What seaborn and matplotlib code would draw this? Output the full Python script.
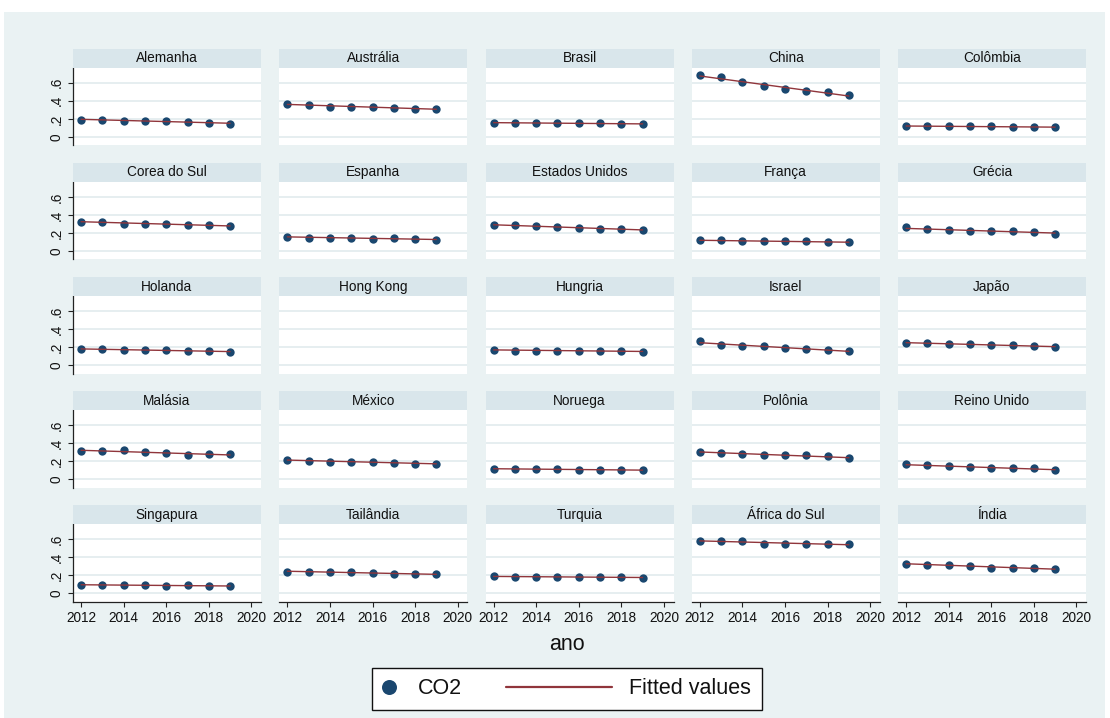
import numpy as np
import pandas as pd
import matplotlib
matplotlib.use("Agg")
import matplotlib.pyplot as plt
import seaborn as sns
from matplotlib.patches import Rectangle
from matplotlib.lines import Line2D
from matplotlib.legend_handler import HandlerBase

# ---------------- data ----------------
countries = ["Alemanha", "Austrália", "Brasil", "China", "Colômbia",
             "Corea do Sul", "Espanha", "Estados Unidos", "França", "Grécia",
             "Holanda", "Hong Kong", "Hungria", "Israel", "Japão",
             "Malásia", "México", "Noruega", "Polônia", "Reino Unido",
             "Singapura", "Tailândia", "Turquia", "África do Sul", "Índia"]
years = [2012, 2013, 2014, 2015, 2016, 2017, 2018, 2019]

alemanha = [0.193, 0.193, 0.178, 0.178, 0.174, 0.167, 0.159, 0.148]
australia = [0.367, 0.352, 0.337, 0.337, 0.330, 0.326, 0.315, 0.307]
brasil = [0.152, 0.156, 0.159, 0.159, 0.152, 0.152, 0.144, 0.141]
china = [0.681, 0.659, 0.611, 0.567, 0.530, 0.504, 0.493, 0.470]
colombia = [0.119, 0.119, 0.119, 0.119, 0.119, 0.108, 0.111, 0.108]
coreia = [0.327, 0.320, 0.305, 0.305, 0.298, 0.294, 0.287, 0.276]
espanha = [0.161, 0.150, 0.144, 0.147, 0.136, 0.144, 0.133, 0.125]
eua = [0.287, 0.287, 0.280, 0.265, 0.254, 0.246, 0.246, 0.235]
franca = [0.122, 0.122, 0.106, 0.106, 0.106, 0.106, 0.103, 0.099]
grecia = [0.261, 0.239, 0.228, 0.224, 0.221, 0.221, 0.213, 0.194]
holanda = [0.177, 0.177, 0.166, 0.169, 0.169, 0.162, 0.155, 0.144]
hong_kong = []
hungria = [0.173, 0.162, 0.158, 0.162, 0.162, 0.162, 0.155, 0.147]
israel = [0.269, 0.225, 0.207, 0.207, 0.188, 0.180, 0.166, 0.162]
japao = [0.247, 0.243, 0.236, 0.229, 0.225, 0.221, 0.214, 0.199]
malasia = [0.311, 0.315, 0.319, 0.300, 0.293, 0.270, 0.274, 0.274]
mexico = [0.215, 0.207, 0.196, 0.193, 0.189, 0.181, 0.174, 0.174]
noruega = [0.115, 0.115, 0.111, 0.111, 0.107, 0.104, 0.104, 0.100]
polonia = [0.304, 0.293, 0.278, 0.270, 0.267, 0.267, 0.252, 0.230]
reino_unido = [0.163, 0.156, 0.141, 0.133, 0.126, 0.122, 0.119, 0.104]
singapura = [0.096, 0.092, 0.089, 0.089, 0.085, 0.089, 0.081, 0.081]
tailandia = [0.240, 0.240, 0.237, 0.233, 0.226, 0.218, 0.211, 0.211]
turquia = [0.196, 0.178, 0.178, 0.178, 0.181, 0.185, 0.181, 0.170]
africa_sul = [0.578, 0.578, 0.584, 0.548, 0.544, 0.551, 0.544, 0.544]
india = [0.326, 0.318, 0.318, 0.300, 0.285, 0.281, 0.278, 0.270]

series = [alemanha, australia, brasil, china, colombia,
          coreia, espanha, eua, franca, grecia,
          holanda, hong_kong, hungria, israel, japao,
          malasia, mexico, noruega, polonia, reino_unido,
          singapura, tailandia, turquia, africa_sul, india]

x_ticks = [2012, 2014, 2016, 2018, 2020]
y_ticks = [0, 0.2, 0.4, 0.6]
y_ticklabels = ["0", ".2", ".4", ".6"]

rows = []
for name, vals in zip(countries, series):
    for yr, v in zip(years, vals):
        rows.append({"pais": name, "ano": yr, "CO2": v})
df = pd.DataFrame(rows)

# ---------------- style ----------------
NAVY = "#1A476F"
MAROON = "#90353B"
OUTER = "#EAF2F3"
STRIP = "#D9E6EB"
GRID = "#E4EDEF"

sns.set_theme(style="white")
plt.rcParams["font.family"] = ["Liberation Sans", "DejaVu Sans"]

W, H = 1110, 718
g = sns.FacetGrid(df, col="pais", col_wrap=5, col_order=countries,
                  sharex=True, sharey=True, height=1.5, aspect=1.3)


def draw(data, **kws):
    ax = plt.gca()
    sns.scatterplot(data=data, x="ano", y="CO2", ax=ax, color=NAVY, s=36,
                    edgecolor=NAVY, linewidth=0, zorder=3)
    sns.regplot(data=data, x="ano", y="CO2", ax=ax, scatter=False, ci=None,
                truncate=True, line_kws=dict(color=MAROON, lw=1.0, zorder=4))


g.map_dataframe(draw)
fig = g.figure
fig.set_size_inches(W / 100, H / 100)
fig.set_facecolor("white")

# outer light panel
fig.patches.append(Rectangle((4 / W, 0), (1105 - 4) / W, 1 - 12 / H,
                             transform=fig.transFigure, facecolor=OUTER,
                             edgecolor="none", zorder=-10))

fig.subplots_adjust(left=73 / W, right=1086 / W, top=1 - 67.7 / H,
                    bottom=1 - 601.7 / H, wspace=18.25 / 188, hspace=36.4 / 77.7)

axes = g.axes.flatten()
strip_h = 18.7 / 77.7
for i, (ax, name) in enumerate(zip(axes, countries)):
    r, c = divmod(i, 5)
    ax.set_title("")
    ax.set_xlabel("")
    ax.set_ylabel("")
    ax.set_facecolor("white")
    ax.set_xlim(2011.62, 2020.45)
    ax.set_ylim(-0.093, 0.767)
    ax.set_yticks(y_ticks)
    ax.set_xticks(x_ticks)
    ax.grid(False)
    for yv in y_ticks:
        ax.axhline(yv, color=GRID, lw=1.3, zorder=0)
    for s in ["top", "right"]:
        ax.spines[s].set_visible(False)
    ax.spines["left"].set_visible(c == 0)
    ax.spines["bottom"].set_visible(r == 4)
    for s in ["left", "bottom"]:
        ax.spines[s].set_color("#222222")
        ax.spines[s].set_linewidth(0.9)
    if c == 0:
        ax.set_yticklabels(y_ticklabels)
        ax.tick_params(axis="y", left=True, length=3.5, width=0.8,
                       color="#222222", pad=3.5, labelsize=9.8,
                       labelcolor="#111111", labelleft=True)
        plt.setp(ax.get_yticklabels(), rotation=90, va="center")
    else:
        ax.tick_params(axis="y", left=False, labelleft=False)
    if r == 4:
        ax.set_xticklabels([str(t) for t in x_ticks])
        ax.tick_params(axis="x", bottom=True, length=3.5, width=0.8,
                       color="#222222", pad=3.5, labelsize=9.8,
                       labelcolor="#111111", labelbottom=True)
    else:
        ax.tick_params(axis="x", bottom=False, labelbottom=False)
    # strip
    ax.add_patch(Rectangle((0, 1), 1, strip_h, transform=ax.transAxes,
                           facecolor=STRIP, edgecolor="none", clip_on=False,
                           zorder=5))
    ax.text(0.5, 1 + strip_h / 2, name, transform=ax.transAxes,
            ha="center", va="center", fontsize=9.8, color="#111111",
            zorder=6, clip_on=False)

fig.text(567 / W, 1 - 645 / H, "ano", ha="center", va="center",
         fontsize=15.5, color="#111111")


# ---------------- legend ----------------
class MarkerHandler(HandlerBase):
    def create_artists(self, legend, orig_handle, xdescent, ydescent,
                       width, height, fontsize, trans):
        y = height / 2 - ydescent
        m = Line2D([0.3 * fontsize - xdescent], [y], marker="o", ls="none",
                   color=NAVY, markersize=10.8, markeredgewidth=0)
        m.set_transform(trans)
        return [m]


class LongLineHandler(HandlerBase):
    def create_artists(self, legend, orig_handle, xdescent, ydescent,
                       width, height, fontsize, trans):
        y = height / 2 - ydescent
        ln = Line2D([width - 4.93 * fontsize - xdescent, width - xdescent],
                    [y, y], color=MAROON, lw=1.6)
        ln.set_transform(trans)
        return [ln]


h_co2 = Line2D([], [], marker="o", ls="none", color=NAVY)
h_fit = Line2D([], [], color=MAROON)
leg = fig.legend([h_co2, h_fit], ["CO2", "Fitted values"],
                 handler_map={h_co2: MarkerHandler(), h_fit: LongLineHandler()},
                 loc="center", bbox_to_anchor=(567 / W, 1 - 689 / H),
                 ncol=2, fontsize=15.5, frameon=True, fancybox=False,
                 edgecolor="#111111", facecolor="white", framealpha=1,
                 handlelength=0.8, handletextpad=0.8, columnspacing=6.18,
                 borderpad=0.5, borderaxespad=0)
leg.get_frame().set_linewidth(1.0)
for t in leg.get_texts():
    t.set_color("#111111")

fig.savefig("out.png", dpi=100, facecolor="white")
